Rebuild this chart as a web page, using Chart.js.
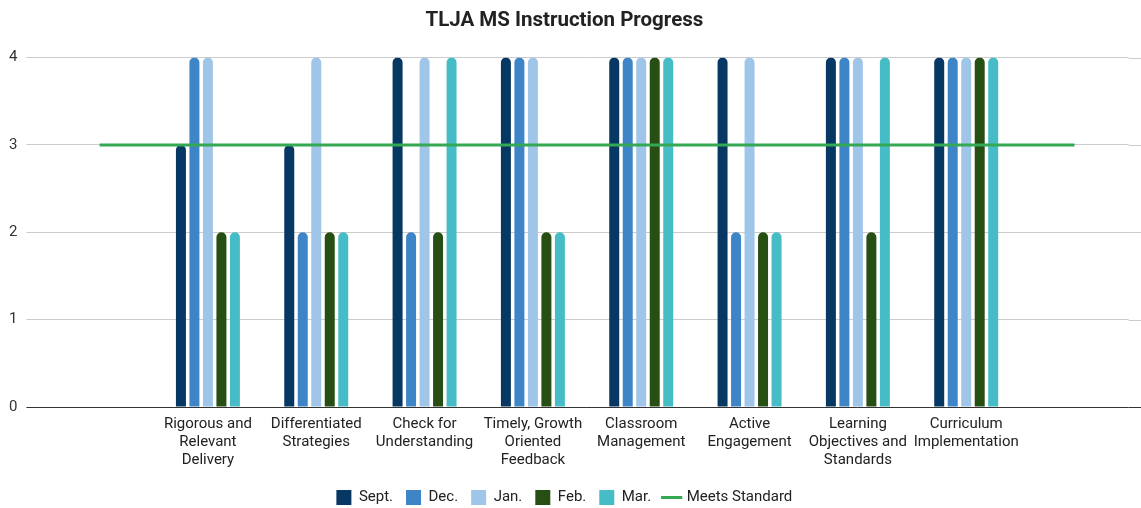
<!DOCTYPE html>
<html>
<head>
<meta charset="utf-8">
<script src="https://cdn.jsdelivr.net/npm/chart.js@4/dist/chart.umd.min.js"></script>
<style>
html,body{margin:0;padding:0;background:#fff;}
#wrap{width:1141px;height:508px;}
</style>
</head>
<body>
<div id="wrap"><canvas id="c" width="1141" height="508"></canvas></div>
<script>
const chartTitle = 'TLJA MS Instruction Progress';
const categories = [
  ['Rigorous and', 'Relevant', 'Delivery'],
  ['Differentiated', 'Strategies'],
  ['Check for', 'Understanding'],
  ['Timely, Growth', 'Oriented', 'Feedback'],
  ['Classroom', 'Management'],
  ['Active', 'Engagement'],
  ['Learning', 'Objectives and', 'Standards'],
  ['Curriculum', 'Implementation']
];
const sept = [3, 3, 4, 4, 4, 4, 4, 4];
const dec  = [4, 2, 2, 4, 4, 2, 4, 4];
const jan  = [4, 4, 4, 4, 4, 4, 4, 4];
const feb  = [2, 2, 2, 2, 4, 2, 2, 4];
const mar  = [2, 2, 4, 2, 4, 2, 4, 4];
const meetsStandard = [3, 3, 3, 3, 3, 3, 3, 3, 3, 3];
const yTicks = [0, 1, 2, 3, 4];

const seriesNames = ['Sept.', 'Dec.', 'Jan.', 'Feb.', 'Mar.'];
const seriesColors = ['#073763', '#3d85c6', '#9fc5e8', '#274e13', '#46bdc6'];
const lineName = 'Meets Standard';
const lineColor = '#34a853';

// empty slot at each end
const labels = [''].concat(categories, ['']);
const pad = arr => [null].concat(arr, [null]);

const barSets = [sept, dec, jan, feb, mar].map((arr, i) => ({
  type: 'bar',
  label: seriesNames[i],
  data: pad(arr),
  backgroundColor: seriesColors[i],
  borderWidth: 0,
  borderRadius: 5,
  borderSkipped: 'bottom',
  categoryPercentage: 0.623,
  barPercentage: 0.74,
  pointStyle: 'rect',
  order: 1
}));

const lineSet = {
  type: 'line',
  label: lineName,
  data: meetsStandard,
  borderColor: lineColor,
  backgroundColor: lineColor,
  borderWidth: 3,
  pointRadius: 0,
  pointHoverRadius: 0,
  pointStyle: 'line',
  tension: 0,
  order: 0
};

const extendGrid = {
  id: 'extendGrid',
  beforeDatasetsDraw(chart) {
    const ys = chart.scales.y;
    const ctx = chart.ctx;
    ctx.save();
    ys.ticks.forEach(t => {
      const y = Math.round(ys.getPixelForValue(t.value)) + 0.5;
      ctx.strokeStyle = t.value === 0 ? '#333333' : '#cccccc';
      ctx.lineWidth = 1;
      ctx.beginPath();
      ctx.moveTo(chart.chartArea.right, y);
      ctx.lineTo(chart.width, y);
      ctx.stroke();
    });
    ctx.restore();
  }
};

new Chart(document.getElementById('c'), {
  data: { labels: labels, datasets: barSets.concat([lineSet]) },
  plugins: [extendGrid],
  options: {
    responsive: false,
    animation: false,
    devicePixelRatio: 1,
    layout: { padding: { left: 0, right: 12.3, top: 0, bottom: -7 } },
    font: { family: 'Roboto' },
    plugins: {
      title: {
        display: true,
        text: chartTitle,
        color: '#222222',
        font: { family: 'Roboto', size: 20.5, weight: 'bold' },
        padding: { top: 8.7, bottom: 24.3 }
      },
      legend: {
        display: true,
        position: 'bottom',
        labels: {
          usePointStyle: true,
          boxWidth: 15,
          boxHeight: 15,
          padding: 13,
          color: '#222222',
          font: { family: 'Roboto', size: 15 },
          sort: (a, b) => a.datasetIndex - b.datasetIndex
        }
      },
      tooltip: { enabled: false }
    },
    scales: {
      x: {
        type: 'category',
        offset: true,
        grid: { display: false, drawTicks: false },
        border: { display: false },
        ticks: {
          autoSkip: false,
          maxRotation: 0,
          minRotation: 0,
          padding: 8,
          color: '#222222',
          font: { family: 'Roboto', size: 15, lineHeight: 1.2 }
        }
      },
      y: {
        min: 0,
        max: 4,
        afterBuildTicks: axis => { axis.ticks = yTicks.map(v => ({ value: v })); },
        grid: {
          color: ctx => (ctx.tick && ctx.tick.value === 0) ? '#333333' : '#cccccc',
          tickLength: 19,
          drawTicks: true
        },
        border: { display: false },
        ticks: {
          padding: 9,
          color: '#333333',
          font: { family: 'Roboto', size: 15 }
        }
      }
    }
  }
});
</script>
</body>
</html>
